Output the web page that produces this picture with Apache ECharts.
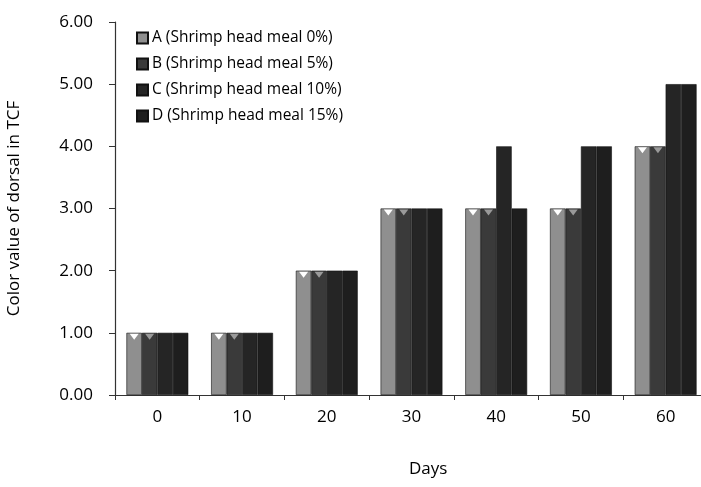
<!DOCTYPE html>
<html>
<head>
<meta charset="utf-8">
<script src="https://cdn.jsdelivr.net/npm/echarts@6/dist/echarts.min.js"></script>
<style>html,body{margin:0;padding:0;background:#fff;}#c{width:701px;height:487px;}</style>
</head>
<body>
<div id="c"></div>
<script>
var categories = ['0', '10', '20', '30', '40', '50', '60'];
var seriesNames = ['A (Shrimp head meal 0%)', 'B (Shrimp head meal 5%)', 'C (Shrimp head meal 10%)', 'D (Shrimp head meal 15%)'];
var valuesA = [1, 1, 2, 3, 3, 3, 4];
var valuesB = [1, 1, 2, 3, 3, 3, 4];
var valuesC = [1, 1, 2, 3, 4, 4, 5];
var valuesD = [1, 1, 2, 3, 3, 4, 5];
var yTicks = [0, 1, 2, 3, 4, 5, 6];

var colors = ['#8f8f8f', '#3a3a3a', '#252525', '#1e1e1e'];
var allValues = [valuesA, valuesB, valuesC, valuesD];
var font = 'Open Sans';

var chart = echarts.init(document.getElementById('c'), null, {renderer: 'canvas'});
var series = allValues.map(function (vals, i) {
  var s = {
    name: seriesNames[i],
    type: 'bar',
    data: vals,
    barGap: '0%',
    barCategoryGap: '27%',
    itemStyle: {color: colors[i], borderColor: '#111', borderWidth: 0.6},
    emphasis: {disabled: true}
  };
  if (i < 2) {
    s.markPoint = {
      symbol: 'triangle',
      symbolSize: [9, 6],
      symbolRotate: 180,
      symbolOffset: [0, 4],
      silent: true,
      label: {show: false},
      itemStyle: {color: i === 0 ? '#ffffff' : '#9a9a9a'},
      data: vals.map(function (v, j) { return {coord: [j, v]}; })
    };
  }
  return s;
});

chart.setOption({
  animation: false,
  backgroundColor: '#ffffff',
  textStyle: {fontFamily: font},
  legend: {
    orient: 'vertical',
    left: 136,
    top: 30,
    padding: 0,
    itemWidth: 11,
    itemHeight: 11,
    itemGap: 10,
    icon: 'rect',
    textStyle: {fontFamily: font, fontSize: 15.5, color: '#000', lineHeight: 15.5, padding: [0, 0, 0, -1]},
    data: seriesNames
  },
  grid: {left: 115, width: 593, top: 22, bottom: 92, containLabel: false, outerBoundsMode: 'none'},
  xAxis: {
    type: 'category',
    data: categories,
    boundaryGap: true,
    axisLine: {lineStyle: {color: '#333', width: 1.2}},
    axisTick: {show: true, alignWithLabel: false, length: 5, lineStyle: {color: '#333'}},
    axisLabel: {fontFamily: font, fontSize: 17, color: '#000', margin: 14}
  },
  yAxis: {
    type: 'value',
    min: 0,
    max: 6,
    interval: 1,
    name: 'Color value of dorsal in TCF',
    nameLocation: 'middle',
    nameGap: 92,
    nameTextStyle: {fontFamily: font, fontSize: 17, color: '#000'},
    axisLine: {show: true, lineStyle: {color: '#333', width: 1.2}},
    axisTick: {show: true, length: 6, lineStyle: {color: '#333'}},
    splitLine: {show: false},
    axisLabel: {
      fontFamily: font, fontSize: 17, color: '#000', margin: 22,
      formatter: function (v) { return yTicks.indexOf(v) >= 0 ? v.toFixed(2) : ''; }
    }
  },
  graphic: [{
    type: 'text',
    left: 409,
    top: 461,
    style: {text: 'Days', font: '17px "Open Sans"', fill: '#000'}
  }],
  series: series
});
</script>
</body>
</html>
